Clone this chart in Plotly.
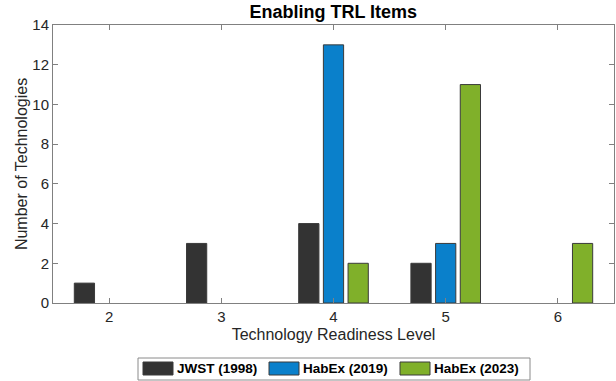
import plotly.graph_objects as go

trl = [2, 3, 4, 5, 6]
jwst_1998 = [1, 3, 4, 2, 0]
habex_2019 = [0, 0, 13, 3, 0]
habex_2023 = [0, 0, 2, 11, 3]

series = [
    ("JWST (1998)", jwst_1998, "#333333"),
    ("HabEx (2019)", habex_2019, "#0A80CB"),
    ("HabEx (2023)", habex_2023, "#80B02A"),
]

font = "Liberation Sans, Arial, Helvetica, sans-serif"

W, H = 616, 381
ML, MR, MT, MB = 53, 2, 25, 78


def px_x(p):
    return (p - ML) / (W - ML - MR)


def px_y(p):
    return (H - MB - p) / (H - MT - MB)


fig = go.Figure()
for name, vals, color in series:
    # no outline on empty (zero) bars
    edge = [1 if v > 0 else 0 for v in vals]
    fig.add_trace(go.Bar(
        x=trl, y=vals, name=name, showlegend=False,
        marker=dict(color=color, line=dict(color="#3a3a3a", width=edge)),
    ))

# MATLAB-style legend box below the axes
shapes = [dict(type="rect", xref="paper", yref="paper",
               x0=px_x(138), x1=px_x(530), y0=px_y(380), y1=px_y(358),
               line=dict(color="#8a8a8a", width=1), fillcolor="white", layer="above")]
annotations = []
swatch_left = [143, 269, 400]
for (name, vals, color), sx in zip(series, swatch_left):
    shapes.append(dict(type="rect", xref="paper", yref="paper",
                       x0=px_x(sx), x1=px_x(sx + 30), y0=px_y(375), y1=px_y(362),
                       line=dict(color="#3a3a3a", width=1), fillcolor=color, layer="above"))
    annotations.append(dict(text=name, xref="paper", yref="paper",
                            x=px_x(sx + 32), y=px_y(368.5), xanchor="left", yanchor="middle",
                            showarrow=False,
                            font=dict(size=13.5, color="black", family=font, weight="bold")))

fig.update_layout(
    width=W, height=H, autosize=False,
    margin=dict(l=ML, r=MR, t=MT, b=MB, autoexpand=False),
    paper_bgcolor="white", plot_bgcolor="white",
    barmode="group", bargap=0.34, bargroupgap=0.18,
    font=dict(family=font, size=14, color="#262626"),
    title=dict(text="<b>Enabling TRL Items</b>", x=0.541, xanchor="center",
               y=0.985, yanchor="top", font=dict(size=18, color="black")),
    showlegend=False,
    shapes=shapes, annotations=annotations,
)

fig.update_xaxes(
    range=[1.5, 6.5], tickvals=trl, ticks="inside", ticklen=5,
    tickcolor="#808080", showline=True, linecolor="#808080", linewidth=1,
    mirror="ticks", showgrid=False, zeroline=False, automargin=False,
    tickfont=dict(size=15, color="#262626"),
    title=dict(text="Technology Readiness Level", font=dict(size=16, color="#262626"), standoff=4),
)
fig.update_yaxes(
    range=[0, 14], dtick=2, ticks="inside", ticklen=5,
    tickcolor="#808080", showline=True, linecolor="#808080", linewidth=1,
    mirror="ticks", showgrid=False, zeroline=False, automargin=False,
    tickfont=dict(size=15, color="#262626"),
    title=dict(text="Number of Technologies", font=dict(size=16, color="#262626"), standoff=0),
)

fig.write_html("out.html", config={"displayModeBar": False},
               post_script="document.body.style.margin='0';document.body.style.overflow='hidden';")
